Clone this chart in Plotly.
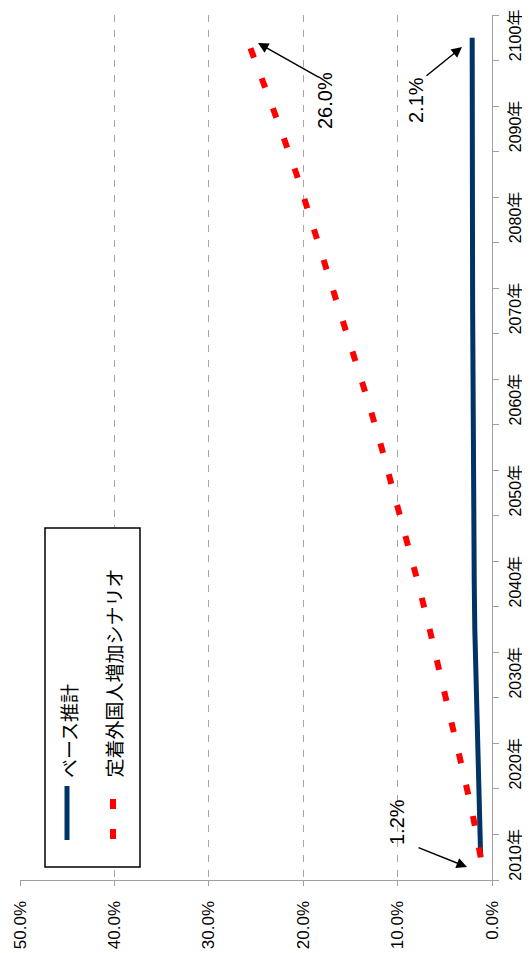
import plotly.graph_objects as go

# ---- data ----
years = [2010, 2015, 2020, 2025, 2030, 2035, 2040, 2045, 2050, 2055,
         2060, 2065, 2070, 2075, 2080, 2085, 2090, 2095, 2100]
base_share = [1.2, 1.35, 1.5, 1.62, 1.73, 1.82, 1.88, 1.93, 1.97, 2.0,
              2.02, 2.04, 2.05, 2.06, 2.07, 2.08, 2.09, 2.1, 2.1]
scenario_share = [1.2, 2.1, 3.2, 4.3, 5.4, 6.6, 7.8, 9.1, 10.3, 11.7,
                  13.1, 14.6, 16.1, 17.6, 19.1, 20.7, 22.4, 24.2, 26.0]
series_names = ["ベース推計", "定着外国人増加シナリオ"]
pct_ticks = [0, 10, 20, 30, 40, 50]
pct_labels = ["0.0%", "10.0%", "20.0%", "30.0%", "40.0%", "50.0%"]
year_ticks = [2010, 2020, 2030, 2040, 2050, 2060, 2070, 2080, 2090, 2100]
year_labels = [f"{y}年" for y in year_ticks]
minor_year_ticks = [2007.5 + 5 * i for i in range(20)]
callouts = ["1.2%", "2.1%", "26.0%"]

# page has an 8px body margin; plot area in page pixels: x 20..492, y 15..880
OFF = 8
PLOT_X0, PLOT_X1, PLOT_Y0, PLOT_Y1 = 20, 492, 15, 880
W, H = 530 - OFF, 953 - OFF
L, T = PLOT_X0 - OFF, PLOT_Y0 - OFF
PW, PH = PLOT_X1 - PLOT_X0, PLOT_Y1 - PLOT_Y0
R, B = W - L - PW, H - T - PH

def px(x):
    return (x - PLOT_X0) / PW

def py(y):
    return (PLOT_Y1 - y) / PH

SANS = "Liberation Sans, Arial, Noto Sans CJK JP, sans-serif"
JP = "Noto Sans CJK JP, sans-serif"
NAVY = "#003366"
RED = "#ff0000"

fig = go.Figure()
fig.add_trace(go.Scatter(x=base_share, y=years, mode="lines", name=series_names[0],
                         line=dict(color=NAVY, width=5), hoverinfo="skip"))
fig.add_trace(go.Scatter(x=scenario_share, y=years, mode="lines", name=series_names[1],
                         line=dict(color=RED, width=6, dash="10px,22px"), hoverinfo="skip"))

fig.update_layout(
    width=W, height=H, margin=dict(l=L, r=R, t=T, b=B, autoexpand=False),
    paper_bgcolor="white", plot_bgcolor="white", showlegend=False,
    font=dict(family=SANS, size=17, color="black"),
    xaxis=dict(range=[50, 0], tickvals=pct_ticks, ticktext=pct_labels, tickangle=-90,
               tickfont=dict(size=17),
               showgrid=True, gridcolor="#a6a6a6", gridwidth=1, griddash="7px,8px",
               zeroline=False, showline=True, linecolor="#a0a0a0", linewidth=1.3,
               ticks="outside", ticklen=5, tickcolor="#a0a0a0", ticklabelstandoff=8,
               automargin=False, fixedrange=True),
    yaxis=dict(range=[2007.5, 2102.5], side="right", tickvals=year_ticks, ticktext=year_labels,
               tickangle=-90, tickfont=dict(size=16), showgrid=False, zeroline=False, showline=True,
               linecolor="#a0a0a0", linewidth=1.3, ticks="outside", ticklen=6,
               tickcolor="rgba(0,0,0,0)", ticklabelstandoff=3,
               minor=dict(tickvals=minor_year_ticks, ticks="outside", ticklen=6,
                          tickcolor="#a0a0a0", showgrid=False),
               automargin=False, fixedrange=True),
)

# legend (drawn rotated like the reference)
fig.add_shape(type="rect", xref="paper", yref="paper", x0=px(45), x1=px(140), y0=py(867), y1=py(528),
              line=dict(color="black", width=1.5), fillcolor="white", layer="above")
fig.add_shape(type="line", xref="paper", yref="paper", x0=px(67), x1=px(67), y0=py(840), y1=py(786),
              line=dict(color=NAVY, width=5), layer="above")
fig.add_shape(type="line", xref="paper", yref="paper", x0=px(113), x1=px(113), y0=py(839), y1=py(796),
              line=dict(color=RED, width=6, dash="10px,20px"), layer="above")
fig.add_annotation(xref="paper", yref="paper", x=px(68), y=py(780), text=series_names[0],
                   textangle=-90, showarrow=False, xanchor="center", yanchor="bottom",
                   font=dict(family=JP, size=19, color="black"))
fig.add_annotation(xref="paper", yref="paper", x=px(113), y=py(780), text=series_names[1],
                   textangle=-90, showarrow=False, xanchor="center", yanchor="bottom",
                   font=dict(family=JP, size=19, color="black"))

# callout arrows
for (hx, hy, tx, ty) in [(467, 867, 417, 847), (462, 47, 425, 77), (258, 43, 320, 78)]:
    fig.add_annotation(xref="paper", yref="paper", x=px(hx), y=py(hy), text="",
                       showarrow=True, ax=tx - hx, ay=ty - hy, arrowhead=2, arrowsize=1.4,
                       arrowwidth=1.5, arrowcolor="black")
# callout texts
for (label, cx, cy) in zip(callouts, [397, 416, 325], [822, 100, 101]):
    fig.add_annotation(xref="paper", yref="paper", x=px(cx), y=py(cy), text=label,
                       textangle=-90, showarrow=False, xanchor="center", yanchor="middle",
                       font=dict(family=SANS, size=20, color="black"))

fig.write_html("out.html", config={"displayModeBar": False})
